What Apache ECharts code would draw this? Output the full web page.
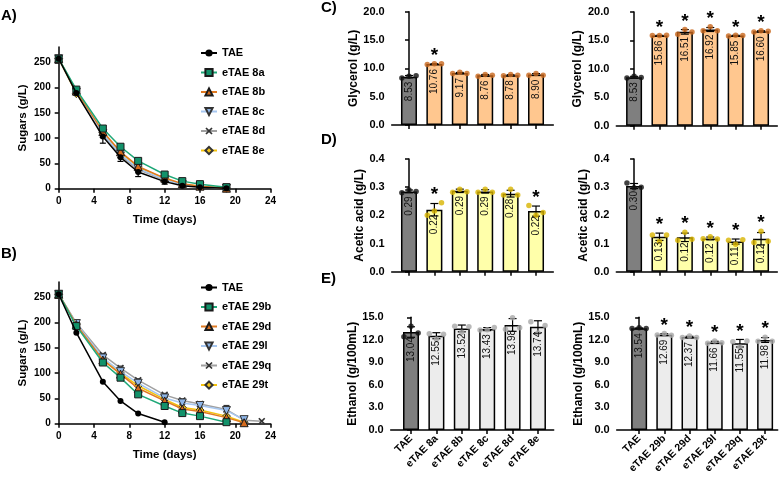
<!DOCTYPE html>
<html><head><meta charset="utf-8">
<script src="https://cdn.jsdelivr.net/npm/echarts@6/dist/echarts.min.js"></script>
<style>html,body{margin:0;padding:0;background:#fff}#c{width:784px;height:480px}</style>
</head><body><div id="c"></div>
<script>
const FONT = '"Liberation Sans", Arial, Helvetica, sans-serif';

// ---------- Panel A (sugar consumption, eTAE 8 series) ----------
const timeA = [0, 2, 5, 7, 9, 12, 14, 16, 19];
const namesA = ['TAE', 'eTAE 8a', 'eTAE 8b', 'eTAE 8c', 'eTAE 8d', 'eTAE 8e'];
const sugarA_TAE = [257, 189, 103, 62, 33, 14, 6, 3, 1];
const sugarA_8a  = [257, 196, 119, 83, 55, 28, 15, 9, 3];
const sugarA_8b  = [257, 193, 113, 73, 44, 21, 10, 5, 1];
const sugarA_8c  = [257, 191, 109, 68, 40, 18, 8, 4, 1];
const sugarA_8d  = [257, 190, 106, 66, 38, 17, 8, 4, 1];
const sugarA_8e  = [257, 188, 111, 71, 43, 20, 9, 5, 1];
const errA_TAE   = [0, 3, 13, 8, 9, 5, 2, 1, 0];

// ---------- Panel B (sugar consumption, eTAE 29 series) ----------
const timeB = [0, 2, 5, 7, 9, 12, 14, 16, 19, 21, 23];
const namesB = ['TAE', 'eTAE 29b', 'eTAE 29d', 'eTAE 29l', 'eTAE 29q', 'eTAE 29t'];
const sugarB_TAE = [256, 180, 83, 45, 20, 3];
const sugarB_29b = [256, 193, 121, 91, 58, 35, 21, 15, 3];
const sugarB_29d = [256, 196, 126, 98, 70, 45, 29, 24, 12, 2];
const sugarB_29l = [256, 198, 130, 103, 80, 51, 41, 36, 26, 8];
const sugarB_29q = [256, 199, 136, 110, 86, 57, 46, 39, 28, 7, 5];
const sugarB_29t = [256, 197, 128, 100, 75, 48, 32, 27, 15, 3];
const errB_29l   = [0, 2, 3, 4, 4, 3, 3, 3, 10, 2];
const errB_29q   = [0, 2, 3, 4, 3, 3, 3, 3, 3, 2, 0];
const sugarTicks = [0, 50, 100, 150, 200, 250];
const timeTicks  = [0, 4, 8, 12, 16, 20, 24];

// ---------- Bar panels ----------
const catLeft  = ['TAE', 'eTAE 8a', 'eTAE 8b', 'eTAE 8c', 'eTAE 8d', 'eTAE 8e'];
const catRight = ['TAE', 'eTAE 29b', 'eTAE 29d', 'eTAE 29l', 'eTAE 29q', 'eTAE 29t'];

// C) Glycerol (g/L)
const glyLeftMean  = [8.53, 10.76, 9.17, 8.76, 8.78, 8.90];
const glyLeftSd    = [0.2, 0.06, 0.1, 0.15, 0.1, 0.17];
const glyLeftDots  = [[8.3, 8.6, 8.7], [10.7, 10.8, 10.8], [9.1, 9.3, 9.1], [8.6, 8.9, 8.8], [8.7, 8.9, 8.8], [8.8, 9.1, 8.8]];
const glyLeftLbl   = ['8.53', '10.76', '9.17', '8.76', '8.78', '8.90'];
const glyLeftStar  = [false, true, false, false, false, false];
const glyRightMean = [8.53, 15.86, 16.51, 16.92, 15.85, 16.60];
const glyRightSd   = [0.15, 0.03, 0.4, 0.35, 0.05, 0.1];
const glyRightDots = [[8.4, 8.7, 8.5], [15.85, 15.85, 15.9], [16.1, 16.9, 16.5], [16.7, 17.4, 16.7], [15.8, 15.9, 15.85], [16.5, 16.7, 16.6]];
const glyRightLbl  = ['8.53', '15.86', '16.51', '16.92', '15.85', '16.60'];
const glyRightStar = [false, true, true, true, true, true];
const glyTicks = [0, 5, 10, 15, 20];

// D) Acetic acid (g/L)
const acLeftMean  = [0.285, 0.22, 0.287, 0.285, 0.277, 0.215];
const acLeftSd    = [0.005, 0.022, 0.006, 0.006, 0.012, 0.018];
const acLeftDots  = [[0.28, 0.29, 0.285], [0.20, 0.215, 0.245], [0.282, 0.293, 0.284], [0.282, 0.293, 0.282], [0.272, 0.293, 0.272], [0.235, 0.20, 0.21]];
const acLeftLbl   = ['0.29', '0.22', '0.29', '0.29', '0.28', '0.22'];
const acLeftStar  = [false, true, false, false, false, true];
const acRightMean = [0.304, 0.124, 0.122, 0.118, 0.107, 0.117];
const acRightSd   = [0.009, 0.013, 0.015, 0.005, 0.009, 0.022];
const acRightDots = [[0.315, 0.298, 0.300], [0.13, 0.107, 0.13], [0.112, 0.14, 0.115], [0.117, 0.124, 0.116], [0.112, 0.097, 0.113], [0.104, 0.144, 0.108]];
const acRightLbl  = ['0.30', '0.13', '0.12', '0.12', '0.11', '0.12'];
const acRightStar = [false, true, true, true, true, true];
const acTicks = [0, 0.1, 0.2, 0.3, 0.4];

// E) Ethanol (g/100mL)
const etLeftMean  = [13.04, 12.55, 13.52, 13.43, 13.98, 13.74];
const etLeftSd    = [0.7, 0.4, 0.45, 0.2, 0.85, 0.8];
const etLeftDots  = [[12.4, 13.8, 12.9], [12.8, 12.1, 12.75], [13.8, 13.0, 13.75], [13.3, 13.35, 13.65], [13.4, 14.95, 13.6], [14.4, 12.9, 13.9]];
const etLeftLbl   = ['13.04', '12.55', '13.52', '13.43', '13.98', '13.74'];
const etLeftStar  = [false, false, false, false, false, false];
const etRightMean = [13.54, 12.69, 12.37, 11.66, 11.55, 11.98];
const etRightSd   = [0.05, 0.12, 0.1, 0.15, 0.5, 0.32];
const etRightDots = [[13.5, 13.6, 13.5], [12.65, 12.85, 12.6], [12.3, 12.5, 12.3], [11.55, 11.85, 11.6], [11.75, 11.05, 11.85], [11.8, 12.35, 11.8]];
const etRightLbl  = ['13.54', '12.69', '12.37', '11.66', '11.55', '11.98'];
const etRightStar = [false, true, true, true, true, true];
const etTicks = [0, 3, 6, 9, 12, 15];

// ---------- styles ----------
const AX = {color: '#000', width: 1.5};
const XPATH = 'path://M0,1.6L1.6,0L5,3.4L8.4,0L10,1.6L6.6,5L10,8.4L8.4,10L5,6.6L1.6,10L0,8.4L3.4,5Z';
const STY = [
  {line: '#000000', fill: '#000000', border: '#000', symbol: 'circle', size: 6, bw: 0},
  {line: '#1fa878', fill: '#12926a', border: '#1a1a1a', symbol: 'rect', size: 7, bw: 1},
  {line: '#e07a22', fill: '#d46a1c', border: '#1a1a1a', symbol: 'triangle', size: 8, bw: 1},
  {line: '#a7c7f0', fill: '#8db5e8', border: '#333', symbol: 'path://M0,0L10,0L5,9Z', size: 8, bw: 1},
  {line: '#a0a0a0', fill: '#333333', border: '#333', symbol: XPATH, size: 7, bw: 0},
  {line: '#f4c20d', fill: '#f5c518', border: '#333', symbol: 'diamond', size: 8, bw: 1}
];
const JIT = [-0.28, 0, 0.28];

function lineSeries(name, times, vals, gi, k) {
  const s = STY[k];
  return {
    type: 'line', name: name, xAxisIndex: gi, yAxisIndex: gi,
    data: vals.map((v, i) => [times[i], v]),
    symbol: s.symbol, symbolSize: s.size, showAllSymbol: true,
    lineStyle: {color: s.line, width: 1.5},
    itemStyle: {color: s.fill, borderColor: s.border, borderWidth: s.bw},
    z: 5 + (6 - k) * 0.1
  };
}
function errSeries(times, vals, errs, gi, color, cap) {
  return {
    type: 'custom', xAxisIndex: gi, yAxisIndex: gi, silent: true, z: 4,
    data: vals.map((v, i) => [times[i], v, errs[i]]),
    renderItem: function (params, api) {
      const x = api.value(0), v = api.value(1), e = api.value(2);
      if (!e) return null;
      const t = api.coord([x, v + e]), b = api.coord([x, Math.max(0, v - e)]);
      const st = {stroke: color, lineWidth: 1.2};
      return {type: 'group', children: [
        {type: 'line', shape: {x1: t[0], y1: t[1], x2: b[0], y2: b[1]}, style: st},
        {type: 'line', shape: {x1: t[0] - cap, y1: t[1], x2: t[0] + cap, y2: t[1]}, style: st},
        {type: 'line', shape: {x1: b[0] - cap, y1: b[1], x2: b[0] + cap, y2: b[1]}, style: st}
      ]};
    }
  };
}
function barSeriesSet(gi, means, sds, dots, labels, stars, fill, dotColor) {
  const out = [];
  out.push({
    type: 'bar', xAxisIndex: gi, yAxisIndex: gi, barWidth: 16, z: 2,
    data: means.map((m, i) => ({value: [i, m], itemStyle: {color: i === 0 ? '#7f7f7f' : fill}})),
    itemStyle: {borderColor: '#000', borderWidth: 1.5}
  });
  out.push(errSeries(means.map((m, i) => i), means, sds, gi, '#000', 4));
  const pts = [];
  dots.forEach((arr, i) => arr.forEach((v, j) => pts.push({value: [i + JIT[j], v], itemStyle: {color: i === 0 ? '#111' : dotColor}})));
  out.push({type: 'scatter', xAxisIndex: gi, yAxisIndex: gi, symbolSize: 5.5, data: pts, z: 6, silent: true});
  out.push({
    type: 'custom', xAxisIndex: gi, yAxisIndex: gi, silent: true, z: 8,
    data: means.map((m, i) => [i, m]),
    renderItem: function (params, api) {
      const i = params.dataIndex;
      const x = api.value(0), m = api.value(1);
      const p = api.coord([x, m]);
      const ch = [{type: 'text', x: p[0], y: p[1] + 5, rotation: Math.PI / 2,
        style: {text: labels[i], font: '10px ' + FONT, fill: '#111', align: 'right', verticalAlign: 'middle'}}];
      if (stars[i]) {
        const top = Math.max(m + sds[i], Math.max.apply(null, dots[i]));
        const q = api.coord([x, top]);
        ch.push({type: 'text', x: q[0], y: q[1] - 8,
          style: {text: '*', font: 'bold 19px ' + FONT, fill: '#000', align: 'center', verticalAlign: 'middle'}});
      }
      return {type: 'group', children: ch};
    }
  });
  return out;
}

const labelStyle = {fontFamily: FONT, fontWeight: 'bold', color: '#000'};
function lineX(gi) {
  return {type: 'value', gridIndex: gi, min: 0, max: 24, interval: 4,
    name: 'Time (days)', nameLocation: 'middle', nameGap: 25,
    nameTextStyle: Object.assign({fontSize: 11.5}, labelStyle),
    axisLine: {show: true, lineStyle: AX}, axisTick: {show: true, length: 4, lineStyle: AX, customValues: timeTicks},
    axisLabel: Object.assign({fontSize: 10, margin: 8, customValues: timeTicks}, labelStyle), splitLine: {show: false}};
}
function lineY(gi) {
  return {type: 'value', gridIndex: gi, min: 0, max: 280, interval: 50,
    name: 'Sugars (g/L)', nameLocation: 'middle', nameRotate: 90, nameGap: 30,
    nameTextStyle: Object.assign({fontSize: 11.5}, labelStyle),
    axisLine: {show: true, lineStyle: AX}, axisTick: {show: true, length: 4, lineStyle: AX, customValues: sugarTicks},
    axisLabel: Object.assign({fontSize: 10, margin: 8, customValues: sugarTicks}, labelStyle), splitLine: {show: false}};
}
function barX(gi, min, max, cats, show) {
  const idx = cats.map((c, i) => i);
  return {type: 'value', gridIndex: gi, min: min, max: max,
    axisLine: {show: true, lineStyle: AX}, axisTick: {show: true, length: 4, lineStyle: AX, customValues: idx},
    axisLabel: Object.assign({show: show, customValues: idx, rotate: 45, fontSize: 10.5, margin: 7,
      formatter: function (v) { return cats[Math.round(v)]; }}, labelStyle),
    splitLine: {show: false}};
}
function barY(gi, max, ticks, name, gap) {
  return {type: 'value', gridIndex: gi, min: 0, max: max,
    name: name, nameLocation: 'middle', nameRotate: 90, nameGap: gap,
    nameTextStyle: Object.assign({fontSize: 12}, labelStyle),
    axisLine: {show: true, lineStyle: AX}, axisTick: {show: true, length: 4, lineStyle: AX, customValues: ticks},
    axisLabel: Object.assign({fontSize: 11, margin: 7, customValues: ticks, formatter: function (v) { return v.toFixed(1); }}, labelStyle),
    splitLine: {show: false}};
}

const grids = [
  {left: 58.7, top: 47.1, width: 211.9, height: 141.6},
  {left: 58.7, top: 282.1, width: 211.9, height: 141.6},
  {left: 391.7, top: 11.7, width: 161.6, height: 113.3},
  {left: 616.3, top: 12, width: 161, height: 113.7},
  {left: 391.7, top: 159, width: 161.6, height: 112.7},
  {left: 616.3, top: 159, width: 161, height: 112.7},
  {left: 390.7, top: 317.3, width: 163, height: 112.7},
  {left: 616.7, top: 317.3, width: 161, height: 112.7}
];

const series = [];
const seriesA = [sugarA_TAE, sugarA_8a, sugarA_8b, sugarA_8c, sugarA_8d, sugarA_8e];
const seriesB = [sugarB_TAE, sugarB_29b, sugarB_29d, sugarB_29l, sugarB_29q, sugarB_29t];
series.push(errSeries(timeA, sugarA_TAE, errA_TAE, 0, '#000', 3));
series.push(errSeries(timeB, sugarB_29l, errB_29l, 1, '#333', 3));
series.push(errSeries(timeB, sugarB_29q, errB_29q, 1, '#555', 3));
seriesA.forEach((d, k) => series.push(lineSeries(namesA[k], timeA, d, 0, k)));
seriesB.forEach((d, k) => series.push(lineSeries(namesB[k], timeB, d, 1, k)));

Array.prototype.push.apply(series, barSeriesSet(2, glyLeftMean, glyLeftSd, glyLeftDots, glyLeftLbl, glyLeftStar, '#ffc78f', '#c8661c'));
Array.prototype.push.apply(series, barSeriesSet(3, glyRightMean, glyRightSd, glyRightDots, glyRightLbl, glyRightStar, '#ffc78f', '#c8661c'));
Array.prototype.push.apply(series, barSeriesSet(4, acLeftMean, acLeftSd, acLeftDots, acLeftLbl, acLeftStar, '#ffffaa', '#d8b400'));
Array.prototype.push.apply(series, barSeriesSet(5, acRightMean, acRightSd, acRightDots, acRightLbl, acRightStar, '#ffffaa', '#d8b400'));
Array.prototype.push.apply(series, barSeriesSet(6, etLeftMean, etLeftSd, etLeftDots, etLeftLbl, etLeftStar, '#ececec', '#a8a8a8'));
Array.prototype.push.apply(series, barSeriesSet(7, etRightMean, etRightSd, etRightDots, etRightLbl, etRightStar, '#ececec', '#a8a8a8'));

const legendBase = {orient: 'vertical', left: 195, itemWidth: 16, itemHeight: 9, itemGap: 7.5, selectedMode: false,
  textStyle: {fontFamily: FONT, fontWeight: 'bold', fontSize: 11, color: '#000', lineHeight: 12}};

const option = {
  animation: false,
  backgroundColor: '#fff',
  grid: grids,
  xAxis: [lineX(0), lineX(1),
    barX(2, -0.68, 5.68, catLeft, false), barX(3, -0.70, 5.64, catRight, false),
    barX(4, -0.68, 5.68, catLeft, false), barX(5, -0.70, 5.64, catRight, false),
    barX(6, -0.80, 5.62, catLeft, true), barX(7, -0.89, 5.5, catRight, true)],
  yAxis: [lineY(0), lineY(1),
    barY(2, 20, glyTicks, 'Glycerol (g/L)', 32), barY(3, 20, glyTicks, 'Glycerol (g/L)', 32),
    barY(4, 0.4, acTicks, 'Acetic acid (g/L)', 26), barY(5, 0.4, acTicks, 'Acetic acid (g/L)', 26),
    barY(6, 15, etTicks, 'Ethanol (g/100mL)', 29), barY(7, 15, etTicks, 'Ethanol (g/100mL)', 27)],
  legend: [
    Object.assign({data: namesA, top: 42}, legendBase),
    Object.assign({data: namesB, top: 276.5}, legendBase)
  ],
  graphic: [
    {type: 'text', x: 1, y: 8, style: {text: 'A)', font: 'bold 15px ' + FONT, fill: '#000'}},
    {type: 'text', x: 1, y: 246, style: {text: 'B)', font: 'bold 15px ' + FONT, fill: '#000'}},
    {type: 'text', x: 321, y: 0, style: {text: 'C)', font: 'bold 15px ' + FONT, fill: '#000'}},
    {type: 'text', x: 321, y: 132, style: {text: 'D)', font: 'bold 15px ' + FONT, fill: '#000'}},
    {type: 'text', x: 321, y: 271, style: {text: 'E)', font: 'bold 15px ' + FONT, fill: '#000'}}
  ],
  series: series
};
const chart = echarts.init(document.getElementById('c'));
chart.setOption(option);
</script>
</body></html>
